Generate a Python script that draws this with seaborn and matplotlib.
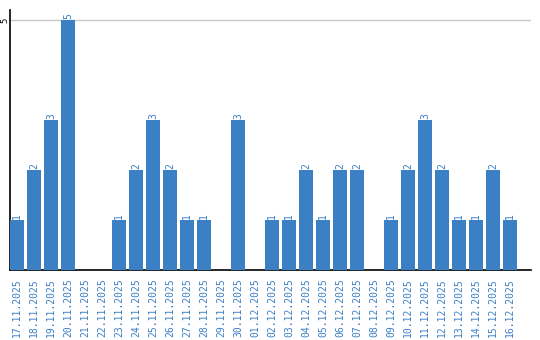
import matplotlib
matplotlib.use("Agg")
import matplotlib.pyplot as plt
import seaborn as sns
import pandas as pd

dates = ["17.11.2025", "18.11.2025", "19.11.2025", "20.11.2025", "21.11.2025",
         "22.11.2025", "23.11.2025", "24.11.2025", "25.11.2025", "26.11.2025",
         "27.11.2025", "28.11.2025", "29.11.2025", "30.11.2025", "01.12.2025",
         "02.12.2025", "03.12.2025", "04.12.2025", "05.12.2025", "06.12.2025",
         "07.12.2025", "08.12.2025", "09.12.2025", "10.12.2025", "11.12.2025",
         "12.12.2025", "13.12.2025", "14.12.2025", "15.12.2025", "16.12.2025"]
counts = [1, 2, 3, 5, 0, 0, 1, 2, 3, 2, 1, 1, 0, 3, 0,
          1, 1, 2, 1, 2, 2, 0, 1, 2, 3, 2, 1, 1, 2, 1]
y_ticks = [5]

BLUE = "#3b7fc4"

sns.set_theme(style="white")
plt.rcParams['font.family'] = ['DejaVu Sans Mono', 'DejaVu Sans']

df = pd.DataFrame({"date": dates, "count": counts})

fig = plt.figure(figsize=(5.4, 3.4), dpi=100)
ax = fig.add_axes([10/540, 70/340, 521/540, 260/340])

sns.barplot(data=df, x="date", y="count", color=BLUE, saturation=1,
            width=0.82, ax=ax, zorder=3, linewidth=0)

for i, v in enumerate(counts):
    if v > 0:
        ax.annotate(str(v), (i, v), xytext=(0, 1), textcoords="offset points",
                    rotation=90, ha="center", va="bottom", fontsize=7,
                    color=BLUE)

ax.set_ylim(0, 5.2)
ax.set_xlim(-0.41, 30.24)
ax.set_yticks(y_ticks)
ax.set_yticklabels([str(t) for t in y_ticks], rotation=90, va="center",
                   fontsize=6.5, color="black")
ax.yaxis.grid(True, color="#c8c8c8", linewidth=1, zorder=0)
ax.xaxis.grid(False)
ax.tick_params(axis="y", length=0, pad=0.5)
ax.tick_params(axis="x", length=0, pad=6)
plt.setp(ax.get_xticklabels(), rotation=90, fontsize=7, color=BLUE)
ax.set_xlabel("")
ax.set_ylabel("")
for s in ["top", "right"]:
    ax.spines[s].set_visible(False)
for s in ["left", "bottom"]:
    ax.spines[s].set_color("black")
    ax.spines[s].set_linewidth(1.2)

fig.savefig("out.png", dpi=100)
